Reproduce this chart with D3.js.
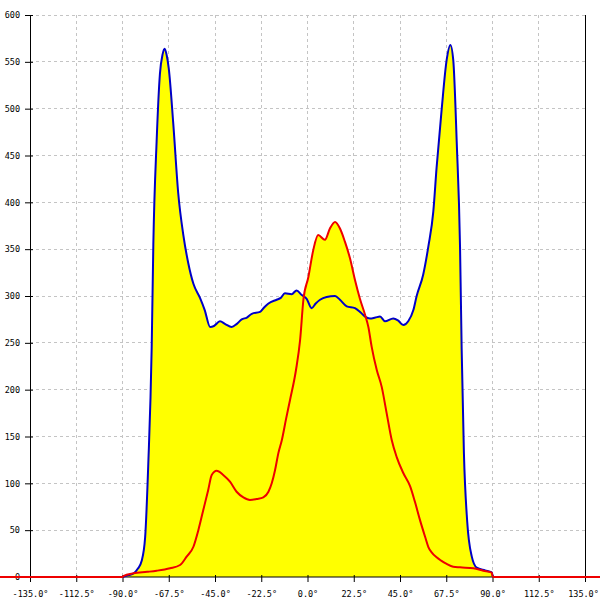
<!DOCTYPE html>
<html><head><meta charset="utf-8">
<script src="https://cdn.jsdelivr.net/npm/d3@7"></script>
<style>body{margin:0;background:#fff}svg{display:block}</style>
</head><body>
<svg id="c" width="600" height="600"></svg>
<script>
const xTicks = [-135,-112.5,-90,-67.5,-45,-22.5,0,22.5,45,67.5,90,112.5,135];
const yTicks = [0,50,100,150,200,250,300,350,400,450,500,550,600];

const blueAngles = [-90,-87,-84.5,-82.5,-80.7,-79,-77.5,-75.8,-75,-73.4,-71.8,-70.5,-69.5,-68.5,-67.5,-65.3,-62.9,-60.4,-58,-55.5,-52.3,-50,-47.4,-45.5,-42.6,-40,-36.9,-34.5,-32,-29.5,-27.1,-23.1,-21,-19,-15,-13,-11,-7.7,-5.3,-2.8,-0.4,2.0,4,6.1,9.3,13.4,15.8,19.1,23.1,26,28,30.4,33,35.3,37.7,41.7,44,46.6,49,51.5,53.1,56.3,58.8,61.2,62.8,65.3,67.7,69.5,70.9,72.6,74.2,75.0,76.1,77.7,79.9,82.3,86.4,89.6,90.2];
const blueValues = [0,2,4,9,17,42,118,245,355,465,537,558,564,557,543,484,410,365,335,313,298,285,267,268,273,270,267,270,275,277,281,283,288,292,296,298,303,302,306,301,297,287,292,296,299,300,296,289,287,282,278,276,277,278,273,276,274,269,273,285,300,323,353,390,437,500,552,568,552,464,353,243,132,59,22,10,7,5,0];

const redAngles = [-150,-90,-89.6,-84.7,-78,-73.4,-66.9,-62.0,-58.8,-55.5,-53.1,-50.7,-48.3,-46.6,-44.2,-41,-37.7,-34.5,-31.2,-28,-24.7,-21.5,-19,-17.4,-15.8,-14.2,-12.5,-10.5,-8.5,-5.6,-3.6,-2.0,0.4,2.8,5.2,8.5,10.9,13.4,15.8,18.2,20.7,23.1,25.5,28,29.6,31.2,33.7,36.1,38.5,41,43.4,46.6,49.9,52.3,54.7,57.2,58.8,60.5,62.8,65,67.7,70.9,74.2,80.7,85.5,89.6,90.2,150];
const redValues = [0,0,1,4,5.5,6.7,9.3,12.8,21.7,32.3,50,71.5,93,109,113.5,109,101.7,91,85,82.2,83.3,85,91,100,114,132,146,168,189,221,253,296,320,349,365,360,372,379,372,358,340,317,297,280,267,246,221,203,175,146,128,111,97,80,61,43,32,26,21,17.5,14,11,10.3,9.3,6.7,4.6,0,0];

const svg = d3.select("#c");
const x = d3.scaleLinear().domain([-135,135]).range([30,585]);
const y = d3.scaleLinear().domain([0,600]).range([577,15]);
const font = "'DejaVu Sans Mono', monospace";

// grid
svg.append("g").selectAll("line").data(yTicks.filter(d=>d>0)).join("line")
  .attr("x1",30).attr("x2",585).attr("y1",d=>y(d)).attr("y2",d=>y(d))
  .attr("stroke","#c4c4c4").attr("stroke-dasharray","3,3").attr("stroke-width",1).attr("shape-rendering","crispEdges");
svg.append("g").selectAll("line").data(xTicks.filter(d=>d>-135&&d<135)).join("line")
  .attr("x1",d=>x(d)).attr("x2",d=>x(d)).attr("y1",15).attr("y2",577)
  .attr("stroke","#c4c4c4").attr("stroke-dasharray","3,3").attr("stroke-width",1).attr("shape-rendering","crispEdges");

const blue = blueAngles.map((a,i)=>[a,blueValues[i]]);
const red = redAngles.map((a,i)=>[a,redValues[i]]);
const curve = d3.curveMonotoneX;
const area = d3.area().x(d=>x(d[0])).y0(y(0)).y1(d=>y(d[1])).curve(curve);
const line = d3.line().x(d=>x(d[0])).y(d=>y(d[1])).curve(curve);

svg.append("path").attr("d",area(blue)).attr("fill","#ffff00");
svg.append("path").attr("d",area(red)).attr("fill","#ffff00");

// axes
const xAxis = d3.axisBottom(x).tickValues(xTicks).tickSize(5).tickPadding(9)
  .tickFormat(d=>d.toFixed(1)+"°");
const gx = svg.append("g").attr("transform",`translate(0,${y(0)})`).call(xAxis);
gx.select(".domain").remove();
gx.selectAll(".tick line").attr("y1",-2).attr("stroke","#000");
gx.selectAll(".tick text").attr("font-family",font).attr("font-size",8.5).attr("fill","#000")
  .attr("dx",d=>d===135?-2:0);

const yAxis = d3.axisLeft(y).tickValues(yTicks).tickSize(5).tickPadding(5).tickFormat(d=>String(d));
const gy = svg.append("g").attr("transform",`translate(${x(-135)},0)`).call(yAxis);
gy.select(".domain").remove();
gy.selectAll(".tick line").attr("x1",3).attr("stroke","#000");
gy.selectAll(".tick text").attr("font-family",font).attr("font-size",8.5).attr("fill","#000");

svg.append("line").attr("x1",x(-135)).attr("x2",x(-135)).attr("y1",15).attr("y2",582).attr("stroke","#000").attr("shape-rendering","crispEdges");
svg.append("line").attr("x1",x(135)).attr("x2",x(135)).attr("y1",15).attr("y2",582).attr("stroke","#000").attr("shape-rendering","crispEdges");
svg.append("line").attr("x1",x(-135)).attr("x2",x(135)).attr("y1",y(0)).attr("y2",y(0)).attr("stroke","#000");

svg.append("path").attr("d",line(blue)).attr("fill","none").attr("stroke","#0000c8").attr("stroke-width",2);
svg.append("path").attr("d",line(red)).attr("fill","none").attr("stroke","#ee0000").attr("stroke-width",2);
</script>
</body></html>
